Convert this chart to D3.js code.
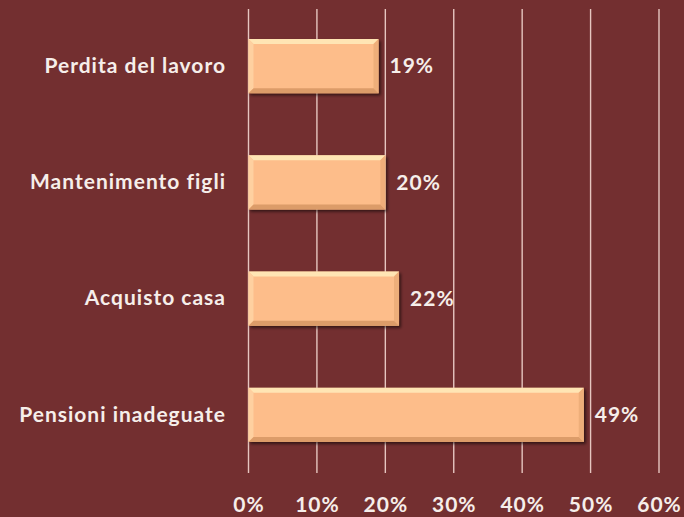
<!DOCTYPE html>
<html>
<head>
<meta charset="utf-8">
<script src="https://cdn.jsdelivr.net/npm/d3@7"></script>
<style>
  html, body { margin: 0; padding: 0; background: #732f30; }
  svg { display: block; }
</style>
</head>
<body>
<svg id="chart" width="684" height="517"></svg>
<script>
// Categories (top to bottom) and their shares in percent
const categories = ["Perdita del lavoro", "Mantenimento figli", "Acquisto casa", "Pensioni inadeguate"];
const values = [19, 20, 22, 49];
const tickValues = [0, 10, 20, 30, 40, 50, 60];
const tickLabels = ["0%", "10%", "20%", "30%", "40%", "50%", "60%"];

const W = 684, H = 517;
const bg = "#732f30";
const textColor = "#f6eeea";
const gridColor = "#e6c6c0";
const barFill = "#fdbd8a";
const font = "Lato, 'Open Sans', sans-serif";
const fontSize = 21;

const svg = d3.select("#chart");
svg.append("rect").attr("width", W).attr("height", H).attr("fill", bg);

const x = d3.scaleLinear().domain([0, 60]).range([248.5, 659]);
const y = d3.scaleBand().domain(categories).range([8, 473]).paddingInner(0.535).paddingOuter(0.2675);

const defs = svg.append("defs");
const shadow = defs.append("filter").attr("id", "shadow")
  .attr("x", "-10%").attr("y", "-20%").attr("width", "130%").attr("height", "160%");
shadow.append("feGaussianBlur").attr("in", "SourceAlpha").attr("stdDeviation", 1.6).attr("result", "b");
shadow.append("feOffset").attr("in", "b").attr("dx", 1.5).attr("dy", 2).attr("result", "o");
shadow.append("feComponentTransfer").attr("in", "o").attr("result", "s")
  .append("feFuncA").attr("type", "linear").attr("slope", 0.55);
const merge = shadow.append("feMerge");
merge.append("feMergeNode").attr("in", "s");
merge.append("feMergeNode").attr("in", "SourceGraphic");

// Vertical gridlines
svg.append("g").selectAll("line").data(tickValues).join("line")
  .attr("x1", d => x(d)).attr("x2", d => x(d))
  .attr("y1", 9).attr("y2", 473)
  .attr("stroke", gridColor).attr("stroke-width", 1.4);

function styleText(sel) {
  sel.attr("fill", textColor)
    .attr("font-family", font)
    .attr("font-weight", "bold")
    .attr("font-size", fontSize)
    .attr("letter-spacing", 1);
}

// Bottom axis labels
const xAxis = d3.axisBottom(x).tickValues(tickValues)
  .tickFormat((d, i) => tickLabels[i]).tickSize(0).tickPadding(0);
const gx = svg.append("g").attr("transform", "translate(0,505)").call(xAxis);
gx.select(".domain").remove();
gx.selectAll("text").call(styleText).attr("dy", "0.35em").attr("y", 0);

// Category labels
const yAxis = d3.axisLeft(y).tickSize(0).tickPadding(0);
const gy = svg.append("g").attr("transform", "translate(226,0)").call(yAxis);
gy.select(".domain").remove();
gy.selectAll("text").call(styleText);

// Bevelled bars
const bev = 5;
const bars = svg.append("g").selectAll("g").data(categories).join("g")
  .attr("filter", "url(#shadow)");

bars.each(function (c, i) {
  const g = d3.select(this);
  const x0 = x(0), x1 = x(values[i]);
  const y0 = y(c), y1 = y(c) + y.bandwidth();
  g.append("rect").attr("x", x0).attr("y", y0).attr("width", x1 - x0).attr("height", y1 - y0).attr("fill", barFill);
  // top highlight
  g.append("polygon").attr("points", [[x0, y0], [x1, y0], [x1 - bev, y0 + bev], [x0 + bev, y0 + bev]].join(" "))
    .attr("fill", "#ffe5b4");
  // left edge
  g.append("polygon").attr("points", [[x0, y0], [x0 + bev, y0 + bev], [x0 + bev, y1 - bev], [x0, y1]].join(" "))
    .attr("fill", "#fed0a0");
  // right edge
  g.append("polygon").attr("points", [[x1, y0], [x1, y1], [x1 - bev, y1 - bev], [x1 - bev, y0 + bev]].join(" "))
    .attr("fill", "#eeae7a");
  // bottom edge
  g.append("polygon").attr("points", [[x0, y1], [x1, y1], [x1 - bev, y1 - bev], [x0 + bev, y1 - bev]].join(" "))
    .attr("fill", "#dc9c69");
});

// Value labels
svg.append("g").selectAll("text").data(categories).join("text")
  .attr("x", (c, i) => x(values[i]) + 11)
  .attr("y", c => y(c) + y.bandwidth() / 2)
  .attr("dy", "0.35em")
  .call(styleText)
  .text((c, i) => values[i] + "%");
</script>
</body>
</html>
